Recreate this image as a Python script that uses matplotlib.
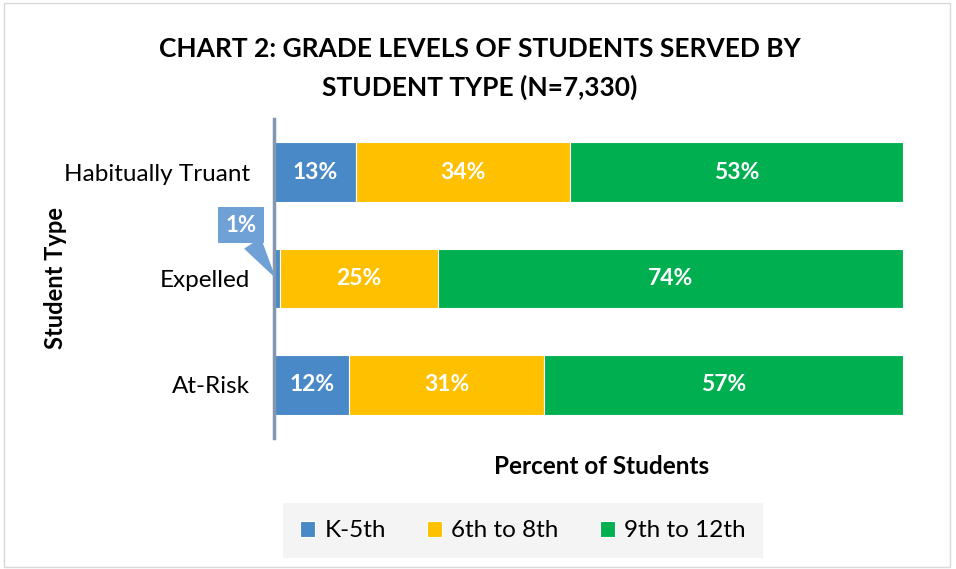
import matplotlib.pyplot as plt
from matplotlib.patches import Rectangle

plt.rcParams['font.family'] = ['Lato', 'DejaVu Sans']

# Data
student_types = ['Habitually Truant', 'Expelled', 'At-Risk']
grades = ['K-5th', '6th to 8th', '9th to 12th']
k5 = [13, 1, 12]
g6_8 = [34, 25, 31]
g9_12 = [53, 74, 57]

colors = ['#4a89c8', '#ffc000', '#00b050']

fig = plt.figure(figsize=(9.56, 5.69), dpi=100)
ax = fig.add_axes([0.2866, 0.2302, 0.658, 0.5607])

ypos = range(len(student_types))
left = [0] * len(student_types)
for series, color, name in zip([k5, g6_8, g9_12], colors, grades):
    bars = ax.barh(ypos, series, left=left, height=0.56, color=color,
                   edgecolor='white', linewidth=0.8, label=name)
    for i, (b, v) in enumerate(zip(bars, series)):
        if v >= 5:
            ax.text(left[i] + v / 2, i, f'{v}%', ha='center', va='center',
                    color='white', fontsize=16.5, fontweight='bold')
    left = [l + v for l, v in zip(left, series)]

# callout for the small Expelled K-5th value
ax.annotate(f'{k5[1]}%', xy=(k5[1] * 0.3, 1.0), xytext=(-5.3, 0.5),
            ha='center', va='center', color='white', fontsize=16,
            fontweight='bold',
            bbox=dict(boxstyle='square,pad=0.33', fc='#6fa0d6', ec='none'),
            arrowprops=dict(arrowstyle='wedge,tail_width=0.9', fc='#6fa0d6',
                            ec='none', shrinkA=0, shrinkB=0),
            annotation_clip=False)

ax.set_xlim(0, 100)
ax.set_ylim(2.5, -0.5)
ax.set_yticks(list(ypos))
ax.set_yticklabels(student_types, fontsize=17.5)
ax.set_xticks([])
ax.tick_params(axis='y', length=0, pad=17)
for s in ['top', 'right', 'bottom']:
    ax.spines[s].set_visible(False)
ax.spines['left'].set_color('#8497b0')
ax.spines['left'].set_linewidth(2.5)

ax.set_xlabel('Percent of Students', fontsize=17.5, fontweight='bold')
ax.xaxis.set_label_coords(0.52, -0.052)
ax.set_ylabel('Student Type', fontsize=17, fontweight='bold')
ax.yaxis.set_label_coords(-0.329, 0.5)

fig.text(0.502, 0.879, 'CHART 2: GRADE LEVELS OF STUDENTS SERVED BY\nSTUDENT TYPE (N=7,330)',
         ha='center', va='center', fontsize=19, fontweight='bold', linespacing=1.65)

leg = ax.legend(loc='center', bbox_to_anchor=(0.396, -0.291), ncol=3, frameon=True,
                fontsize=17.5, handlelength=0.6, handleheight=0.6, columnspacing=1.7,
                handletextpad=0.4, borderpad=0.4, borderaxespad=0)
leg.get_frame().set_facecolor('#f2f2f2')
leg.get_frame().set_edgecolor('none')
leg.get_frame().set_boxstyle('square')

# outer chart border
fig.patches.append(Rectangle((0.004, 0.004), 0.99, 0.99, transform=fig.transFigure,
                             fill=False, ec='#d9d9d9', lw=1))

fig.savefig('out.png', dpi=100)
